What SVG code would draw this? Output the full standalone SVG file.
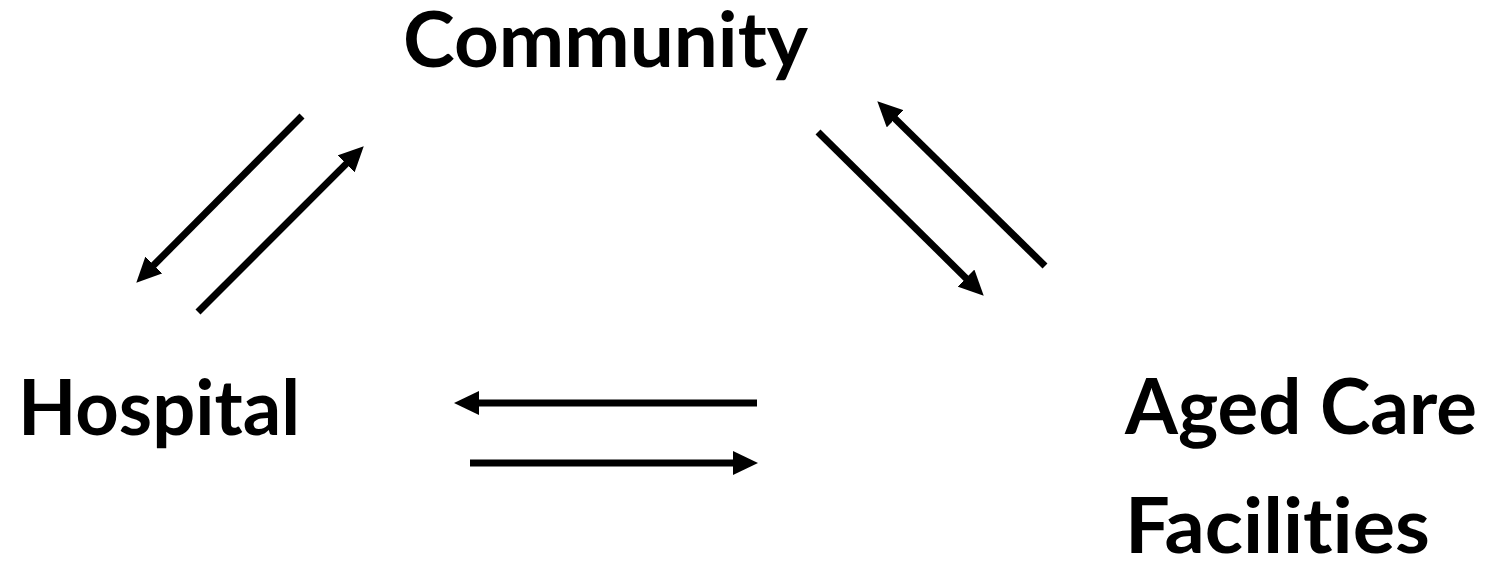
<svg xmlns="http://www.w3.org/2000/svg" width="1499" height="562" viewBox="0 0 1499 562">
  <defs>
    <style>
      .label { font-family: Lato, "Open Sans", "Liberation Sans", sans-serif; font-weight: 700; font-size: 76px; fill: #000; font-variant-ligatures: none; font-feature-settings: "liga" 0, "clig" 0; }
      .flow { stroke: #000; stroke-width: 7; fill: none; marker-end: url(#head); }
    </style>
    <marker id="head" markerUnits="userSpaceOnUse" markerWidth="25" markerHeight="24" refX="4" refY="12" orient="auto">
      <path d="M0,0 L25,12 L0,24 Z" fill="#000"/>
    </marker>
  </defs>
  <rect width="1499" height="562" fill="#fff"/>

  <g id="community">
    <text class="label" x="403" y="67" textLength="405" lengthAdjust="spacingAndGlyphs">Community</text>
  </g>
  <g id="hospital">
    <text class="label" x="18" y="435" textLength="282" lengthAdjust="spacingAndGlyphs">Hospital</text>
  </g>
  <g id="aged-care">
    <text class="label" x="1125" y="434" textLength="352" lengthAdjust="spacingAndGlyphs">Aged Care</text>
    <text class="label" x="1125" y="553" textLength="305" lengthAdjust="spacingAndGlyphs">Facilities</text>
  </g>

  <g id="connectors">
    <line class="flow" x1="302" y1="116" x2="151.1" y2="267.8"/>
    <line class="flow" x1="198" y1="312" x2="348.9" y2="161.1"/>
    <line class="flow" x1="818" y1="132" x2="968.8" y2="280.9"/>
    <line class="flow" x1="1045" y1="266" x2="892.3" y2="116"/>
    <line class="flow" x1="757" y1="403" x2="475" y2="403"/>
    <line class="flow" x1="470" y1="463" x2="737" y2="463"/>
  </g>
</svg>
